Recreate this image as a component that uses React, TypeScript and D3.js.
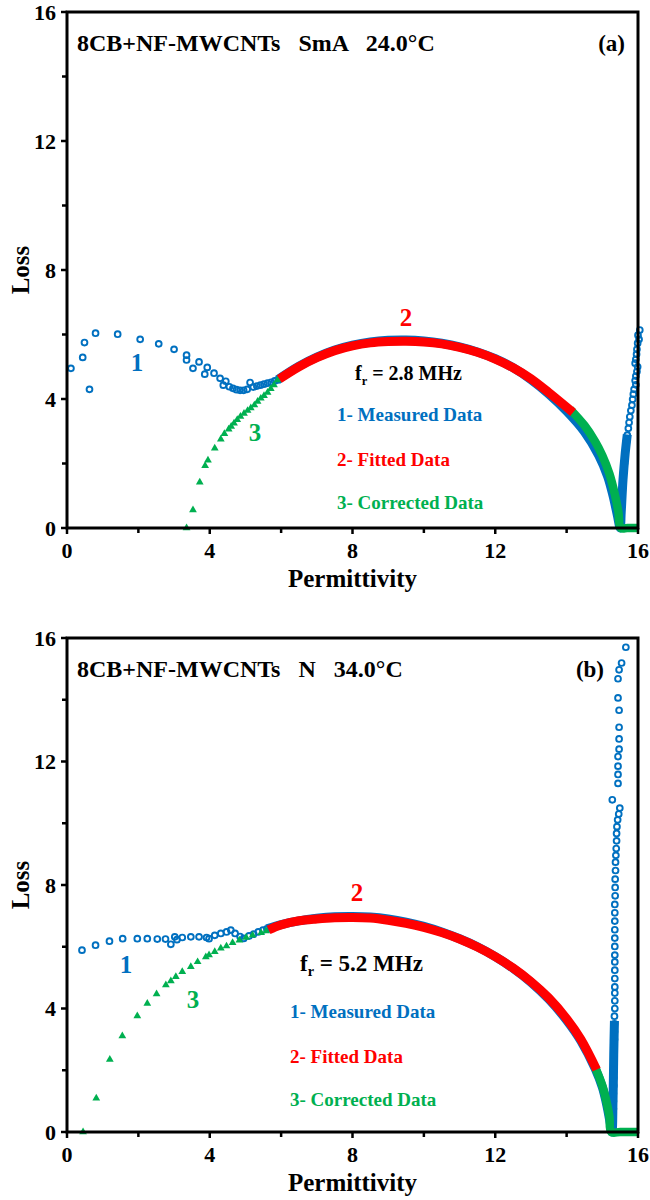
import React from "react";
import * as d3 from "d3";

type Pt = [number, number];

// ---------- Panel (a): 8CB+NF-MWCNTs, SmA, 24.0 °C ----------
const measuredA: Pt[] = [
  [0.11, 4.95], [0.63, 4.3], [0.44, 5.29], [0.49, 5.75], [0.8, 6.04], [1.42, 6.01],
  [2.05, 5.85], [2.57, 5.71], [3.0, 5.54], [3.35, 5.36], [3.35, 5.21], [3.53, 4.95],
  [3.7, 5.15], [3.86, 4.77], [3.93, 4.98], [4.12, 4.8], [4.29, 4.64], [4.38, 4.43],
  [4.45, 4.55], [4.55, 4.38], [4.65, 4.33], [4.75, 4.29], [4.85, 4.27], [4.95, 4.27],
  [5.05, 4.3], [5.13, 4.51], [5.22, 4.37], [5.32, 4.4], [5.42, 4.43], [5.52, 4.46],
  [5.62, 4.49], [5.72, 4.52], [5.82, 4.56], [5.92, 4.59],
  [15.53, 0.25], [15.53, 0.56], [15.55, 0.87], [15.56, 1.18], [15.58, 1.49], [15.6, 1.75],
  [15.62, 2.01], [15.64, 2.27], [15.66, 2.47], [15.68, 2.68], [15.7, 2.88], [15.73, 3.09],
  [15.75, 3.27], [15.77, 3.45], [15.8, 3.64], [15.83, 3.81], [15.85, 3.99], [15.87, 4.15],
  [15.89, 4.3], [15.94, 4.44], [15.92, 4.57], [15.94, 4.71], [15.97, 4.85], [15.99, 5.0],
  [15.92, 5.11], [15.94, 5.23], [15.96, 5.39], [15.97, 5.54], [15.99, 5.73], [16.03, 5.85],
  [16.0, 5.98], [16.05, 6.14],
];
// densely sampled part of the measured arc (markers merge into a band)
const measuredTraceA: Pt[] = [
  [5.9, 4.6], [6.5, 5.02], [7.0, 5.3], [7.5, 5.52], [8.0, 5.67], [8.5, 5.77], [9.0, 5.82],
  [9.5, 5.83], [10.0, 5.8], [10.5, 5.73], [11.0, 5.62], [11.5, 5.46], [12.0, 5.25],
  [12.5, 4.97], [13.0, 4.6], [13.5, 4.15], [14.0, 3.62], [14.5, 2.98], [14.9, 2.25],
  [15.15, 1.6], [15.3, 1.0], [15.42, 0.4], [15.5, 0.0], [15.53, 0.5], [15.58, 1.5],
  [15.64, 2.3], [15.7, 2.9],
];
const fittedA: Pt[] = [
  [5.95, 4.62], [6.5, 5.0], [7.0, 5.28], [7.5, 5.5], [8.0, 5.65], [8.5, 5.74], [9.0, 5.78],
  [9.5, 5.79], [10.0, 5.77], [10.5, 5.71], [11.0, 5.6], [11.5, 5.45], [12.0, 5.24],
  [12.5, 4.97], [13.0, 4.63], [13.5, 4.2], [14.18, 3.58],
];
const correctedA: Pt[] = [
  [3.35, 0], [3.53, 0.56], [3.72, 1.42], [3.87, 1.93], [3.95, 2.1], [4.14, 2.47],
  [4.31, 2.75], [4.41, 2.92], [4.53, 3.06], [4.6, 3.15], [4.68, 3.25], [4.77, 3.36],
  [4.86, 3.46], [4.96, 3.55], [5.06, 3.64], [5.15, 3.72], [5.25, 3.81], [5.34, 3.92],
  [5.43, 4.02], [5.52, 4.1], [5.62, 4.2], [5.71, 4.32], [5.8, 4.43], [5.9, 4.59],
];
const correctedTraceA: Pt[] = [
  [14.1, 3.68], [14.5, 3.18], [14.8, 2.68], [15.0, 2.25], [15.2, 1.68], [15.35, 1.05],
  [15.45, 0.5], [15.52, 0], [15.7, 0], [16.0, 0],
];

// ---------- Panel (b): 8CB+NF-MWCNTs, N, 34.0 °C ----------
const measuredB: Pt[] = [
  [0.42, 5.89], [0.8, 6.05], [1.19, 6.18], [1.56, 6.26], [1.97, 6.26], [2.25, 6.26],
  [2.53, 6.25], [2.76, 6.25], [2.91, 6.08], [3.02, 6.32], [3.08, 6.23], [3.23, 6.3],
  [3.47, 6.32], [3.7, 6.32], [3.91, 6.3], [3.98, 6.26], [4.14, 6.37], [4.31, 6.43],
  [4.47, 6.48], [4.59, 6.54], [4.71, 6.43], [4.85, 6.33], [4.95, 6.27], [5.1, 6.35],
  [5.23, 6.41], [5.36, 6.48], [5.49, 6.54], [5.6, 6.58],
  [15.3, 0.25], [15.3, 0.5], [15.31, 0.75], [15.31, 1.0], [15.31, 1.25], [15.32, 1.5],
  [15.32, 1.75], [15.32, 2.0], [15.33, 2.25], [15.33, 2.5], [15.33, 2.75], [15.34, 3.0],
  [15.34, 3.25], [15.34, 3.5], [15.34, 3.75], [15.35, 4.0], [15.35, 4.25], [15.35, 4.5],
  [15.35, 4.7], [15.35, 4.97], [15.35, 5.24], [15.35, 5.51], [15.35, 5.73], [15.35, 6.01],
  [15.35, 6.28], [15.35, 6.55], [15.35, 6.83], [15.35, 7.1], [15.35, 7.37], [15.36, 7.65],
  [15.36, 7.92], [15.36, 8.19], [15.37, 8.47], [15.37, 8.74], [15.38, 8.96], [15.39, 9.18],
  [15.4, 9.43], [15.4, 9.67], [15.41, 9.89], [15.43, 10.11], [15.46, 10.3], [15.49, 10.49],
  [15.28, 10.76], [15.44, 11.29], [15.44, 11.58], [15.44, 11.85], [15.44, 12.16],
  [15.47, 12.4], [15.47, 12.73], [15.47, 13.11], [15.47, 13.66], [15.44, 14.06],
  [15.44, 14.68], [15.47, 14.97], [15.54, 15.19], [15.66, 15.7],
];
const measuredTraceB: Pt[] = [
  [5.6, 6.58], [6.0, 6.72], [6.5, 6.84], [7.0, 6.92], [7.5, 6.97], [8.0, 6.98], [8.5, 6.96],
  [9.0, 6.9], [9.5, 6.8], [10.0, 6.66], [10.5, 6.48], [11.0, 6.26], [11.5, 6.0],
  [12.0, 5.68], [12.5, 5.3], [13.0, 4.85], [13.5, 4.3], [14.0, 3.62], [14.4, 2.95],
  [14.8, 2.05], [15.0, 1.45], [15.12, 0.9], [15.22, 0.3], [15.27, 0.0], [15.3, 1.0],
  [15.32, 2.5], [15.34, 3.6],
];
const fittedB: Pt[] = [
  [5.65, 6.55], [6.0, 6.71], [6.5, 6.84], [7.0, 6.9], [7.5, 6.94], [8.0, 6.95], [8.5, 6.93],
  [9.0, 6.86], [9.5, 6.76], [10.0, 6.63], [10.5, 6.46], [11.0, 6.25], [11.5, 5.99],
  [12.0, 5.68], [12.5, 5.31], [13.0, 4.87], [13.5, 4.34], [14.0, 3.67], [14.4, 3.0],
  [14.84, 2.02],
];
const correctedB: Pt[] = [
  [0.45, 0], [0.82, 1.09], [1.2, 2.35], [1.55, 3.11], [1.97, 3.76], [2.25, 4.16],
  [2.51, 4.47], [2.77, 4.76], [2.91, 4.89], [3.05, 5.03], [3.23, 5.19], [3.47, 5.35],
  [3.66, 5.51], [3.89, 5.67], [3.98, 5.73], [4.14, 5.84], [4.31, 5.95], [4.47, 6.02],
  [4.64, 6.13], [4.83, 6.21], [5.02, 6.3], [5.2, 6.37], [5.44, 6.45], [5.58, 6.51],
];
const correctedTraceB: Pt[] = [
  [14.8, 2.1], [15.0, 1.5], [15.1, 1.07], [15.2, 0.5], [15.25, 0], [15.5, 0], [16.0, 0],
];

// ---------- shared axis settings ----------
const majorTicks = [0, 4, 8, 12, 16];
const minorTicks = [2, 6, 10, 14];
const legendItems = ["1- Measured Data", "2- Fitted Data", "3- Corrected Data"];

const BLUE = "#0070C0";
const RED = "#FF0000";
const GREEN = "#00B050";
const FONT = "'Liberation Serif', 'Times New Roman', serif";

type PanelProps = {
  top: number;
  bottom: number;
  title: string;
  tag: string;
  tagRight: number;
  freq: string;
  freqX: number;
  freqY: number;
  freqSize: number;
  legendX: number;
  legendY: number[];
  num1: Pt;
  num2: Pt;
  num3: Pt;
  measured: Pt[];
  measuredTrace: Pt[];
  fitted: Pt[];
  corrected: Pt[];
  correctedTrace: Pt[];
};

function Panel(p: PanelProps) {
  const x = d3.scaleLinear().domain([0, 16]).range([67, 638]);
  const y = d3.scaleLinear().domain([0, 16]).range([p.bottom, p.top]);
  const line = d3
    .line<Pt>()
    .x((d) => x(d[0]))
    .y((d) => y(d[1]))
    .curve(d3.curveCatmullRom.alpha(0.5));
  const tri = d3.symbol().type(d3.symbolTriangle).size(26)() as string;
  const colors = [BLUE, RED, GREEN];

  return (
    <g fontFamily={FONT} fontWeight="bold">
      {/* series */}
      <path d={line(p.measuredTrace) || ""} fill="none" stroke={BLUE} strokeWidth={9} strokeLinejoin="round" />
      {p.measured.map((d, i) => (
        <circle key={"m" + i} cx={x(d[0])} cy={y(d[1])} r={2.9} fill="none" stroke={BLUE} strokeWidth={1.9} />
      ))}
      <path d={line(p.correctedTrace) || ""} fill="none" stroke={GREEN} strokeWidth={8.5} strokeLinejoin="round" />
      {p.corrected.map((d, i) => (
        <path key={"c" + i} d={tri} transform={`translate(${x(d[0])},${y(d[1])})`} fill={GREEN} />
      ))}
      <path d={line(p.fitted) || ""} fill="none" stroke={RED} strokeWidth={9} strokeLinejoin="round" />

      {/* frame */}
      <rect x={x(0)} y={y(16)} width={x(16) - x(0)} height={y(0) - y(16)} fill="none" stroke="#000" strokeWidth={3} />
      {majorTicks.map((t) => (
        <g key={"M" + t}>
          <line x1={x(0) - 6} x2={x(0)} y1={y(t)} y2={y(t)} stroke="#000" strokeWidth={2.5} />
          <line x1={x(t)} x2={x(t)} y1={y(0)} y2={y(0) + 6} stroke="#000" strokeWidth={2.5} />
          <text x={56} y={y(t)} dy="0.35em" textAnchor="end" fontSize={22}>{t}</text>
          <text x={x(t)} y={y(0) + 30} textAnchor="middle" fontSize={22}>{t}</text>
        </g>
      ))}
      {minorTicks.map((t) => (
        <g key={"m" + t}>
          <line x1={x(0) - 5} x2={x(0)} y1={y(t)} y2={y(t)} stroke="#000" strokeWidth={2.5} />
          <line x1={x(t)} x2={x(t)} y1={y(0)} y2={y(0) + 5} stroke="#000" strokeWidth={2.5} />
        </g>
      ))}
      <text x={(x(0) + x(16)) / 2} y={y(0) + 59} textAnchor="middle" fontSize={25}>Permittivity</text>
      <text transform={`translate(29,${(y(0) + y(16)) / 2}) rotate(-90)`} textAnchor="middle" fontSize={25}>Loss</text>

      {/* annotations */}
      <text x={77} y={y(16) + 39} fontSize={24} style={{ whiteSpace: "pre" }}>{p.title}</text>
      <text x={p.tagRight} y={y(16) + 39} textAnchor="end" fontSize={23}>{p.tag}</text>
      <text x={p.freqX} y={p.freqY} fontSize={p.freqSize}>
        f<tspan dy={5} fontSize={p.freqSize * 0.62}>r</tspan>
        <tspan dy={-5}>{" = " + p.freq}</tspan>
      </text>
      {legendItems.map((s, i) => (
        <text key={s} x={p.legendX} y={p.legendY[i]} fill={colors[i]} fontSize={19} style={{ whiteSpace: "pre" }}>{s}</text>
      ))}
      <text x={p.num1[0]} y={p.num1[1]} dy="0.35em" textAnchor="middle" fill={BLUE} fontSize={25}>1</text>
      <text x={p.num2[0]} y={p.num2[1]} dy="0.35em" textAnchor="middle" fill={RED} fontSize={25}>2</text>
      <text x={p.num3[0]} y={p.num3[1]} dy="0.35em" textAnchor="middle" fill={GREEN} fontSize={25}>3</text>
    </g>
  );
}

export default function App() {
  return (
    <svg width={650} height={1200} style={{ position: "absolute", left: 0, top: 0, background: "#fff" }}>
      <rect width={650} height={1200} fill="#fff" />
      <Panel
        top={12}
        bottom={528}
        title={"8CB+NF-MWCNTs   SmA   24.0°C"}
        tag="(a)"
        tagRight={625}
        freq="2.8 MHz"
        freqX={355}
        freqY={380}
        freqSize={20}
        legendX={337}
        legendY={[421, 466, 509]}
        num1={[137, 362]}
        num2={[406, 317]}
        num3={[255, 432]}
        measured={measuredA}
        measuredTrace={measuredTraceA}
        fitted={fittedA}
        corrected={correctedA}
        correctedTrace={correctedTraceA}
      />
      <Panel
        top={638}
        bottom={1132}
        title={"8CB+NF-MWCNTs   N   34.0°C"}
        tag="(b)"
        tagRight={604}
        freq="5.2 MHz"
        freqX={300}
        freqY={971}
        freqSize={23}
        legendX={290}
        legendY={[1018, 1063, 1106]}
        num1={[126, 964]}
        num2={[357, 892]}
        num3={[193, 999]}
        measured={measuredB}
        measuredTrace={measuredTraceB}
        fitted={fittedB}
        corrected={correctedB}
        correctedTrace={correctedTraceB}
      />
    </svg>
  );
}
